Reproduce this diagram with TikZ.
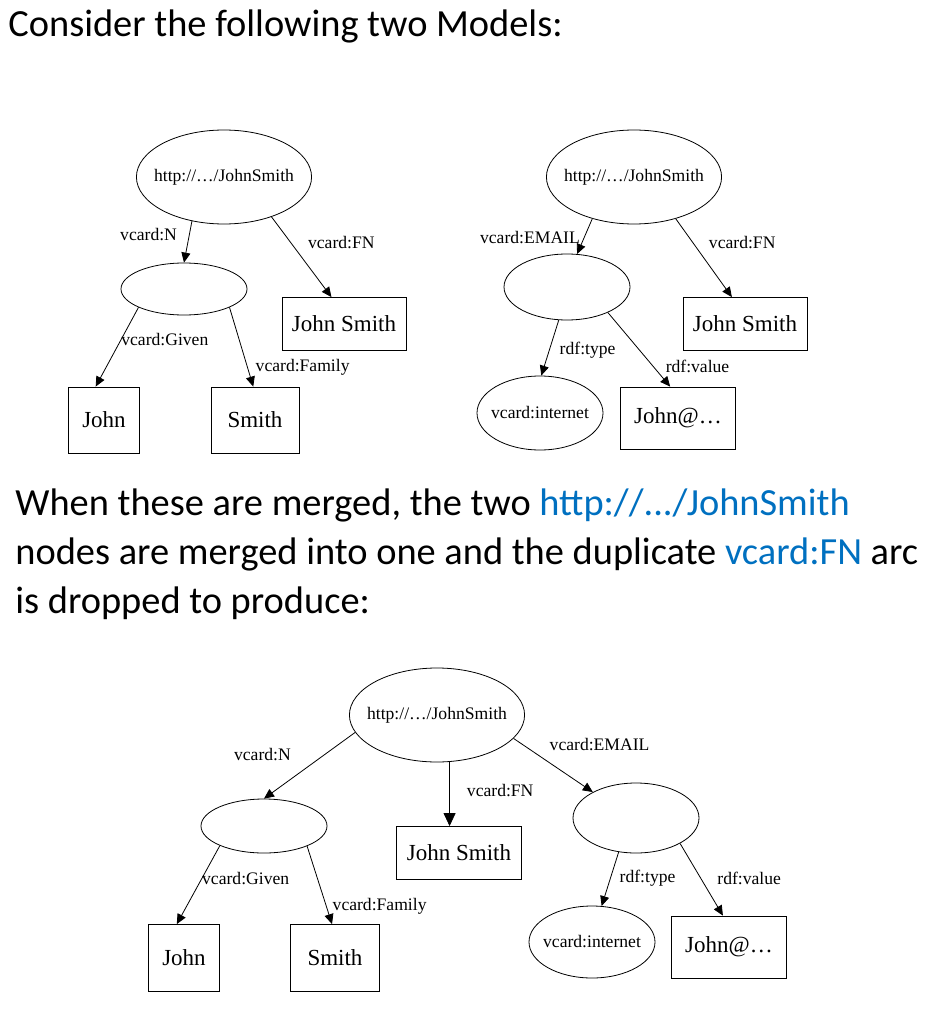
\documentclass[tikz,border=0pt]{standalone}
\usepackage{fontspec}
\setmainfont{Liberation Serif}
\newfontfamily\calibri{Carlito}
\usetikzlibrary{arrows.meta,positioning,shapes.geometric}
\definecolor{linkblue}{HTML}{0070C0}

\begin{document}
\begin{tikzpicture}[
            x=1pt, y=-1pt,
            line width=0.8pt,
            res/.style={ellipse, draw, inner xsep=-8pt, inner ysep=0pt,
                                    minimum width=170pt, minimum height=94pt,
                                    font=\fontsize{17.6}{19}\selectfont},
            blank/.style={ellipse, draw, inner sep=0pt, minimum width=126pt},
            lit/.style={rectangle, draw, inner sep=0pt, minimum height=53pt,
                                    font=\fontsize{23}{25}\selectfont},
            arc/.style={-{Triangle[length=10pt,width=9pt]}},
            lbl/.style={inner sep=0pt, font=\fontsize{17.6}{19}\selectfont},
            para/.style={anchor=base west, inner sep=0pt,
                                    font=\calibri\fontsize{38.4}{46}\selectfont}
        ]
        \useasboundingbox (0,0) rectangle (933,1032);

        % Text
        \node[para] (title) at (8,37) {Consider the following two Models:};
        \node[para] (p1) at (15,515) {When these are merged, the two \textcolor{linkblue}{http://.../JohnSmith}};
        \node[para] (p2) at (15,564) {nodes are merged into one and the duplicate \textcolor{linkblue}{vcard:FN} arc};
        \node[para] (p3) at (15,613) {is dropped to produce:};

        % Model one
        \node[res] (r1) at (224,177) {http://…/JohnSmith};
        \node[blank, minimum height=52pt] (m1) at (184,289) {};
        \node[lit, minimum width=124pt] (js1) at (344,324) {John Smith};
        \node[lit, minimum width=71pt, minimum height=66pt] (j1) at (104,420) {John};
        \node[lit, minimum width=88pt, minimum height=66pt] (s1) at (255,420) {Smith};

        % Model two
        \node[res] (r2) at (634,177) {http://…/JohnSmith};
        \node[blank, minimum height=66pt] (m2) at (567,287) {};
        \node[lit, minimum width=124pt] (js2) at (745,324) {John Smith};
        \node[res, minimum width=126pt, minimum height=74pt] (vi2) at (540,413) {vcard:internet};
        \node[lit, minimum width=115pt, minimum height=62pt] (e2) at (678,418) {John@…};

        % Merged model
        \node[res] (r3) at (437,715) {http://…/JohnSmith};
        \node[blank, minimum height=54pt] (m3) at (264,826) {};
        \node[lit, minimum width=125pt] (js3) at (459,853) {John Smith};
        \node[lit, minimum width=71pt, minimum height=67pt] (j3) at (184,958) {John};
        \node[lit, minimum width=89pt, minimum height=67pt] (s3) at (335,958) {Smith};
        \node[blank, minimum height=70pt] (m4) at (636,818) {};
        \node[res, minimum width=126pt, minimum height=72pt] (vi3) at (592,942) {vcard:internet};
        \node[lit, minimum width=115pt, minimum height=62pt] (e3) at (729,947) {John@…};

        % Arcs, model one
        \draw[arc] (r1.234) -- node[lbl, pos=.33, left=12pt] (n1) {vcard:N} (m1.north);
        \draw[arc] (r1.320) -- node[lbl, pos=.32, right=17pt] (fn1) {vcard:FN} (js1.115);
        \draw[arc] (m1.202) -- node[lbl, pos=.41, right=0pt] (g1) {vcard:Given} (j1.104);
        \draw[arc] (m1.338) -- node[lbl, pos=.75, right=8pt] (f1) {vcard:Family} (s1.93);

        % Arcs, model two
        \draw[arc] (r2.225) -- node[lbl, pos=.53, left=4pt] (em2) {vcard:EMAIL} (m2.73);
        \draw[arc] (r2.315) -- node[lbl, pos=.3, right=16pt] (fn2) {vcard:FN} (js2.116);
        \draw[arc] (m2.256) -- node[lbl, pos=.54, right=10pt] (t2) {rdf:type} (vi2.88);
        \draw[arc] (m2.328) -- node[lbl, pos=.73, right=12pt] (v2) {rdf:value} (e2.104);

        % Arcs, merged model
        \draw[arc] (r3.192) -- node[lbl, pos=.34, left=33pt] (n3) {vcard:N} (m3.north);
        \draw[arc, -{Triangle[length=13pt,width=12pt]}] (r3.285) -- node[lbl, pos=.44, right=17pt] (fn3) {vcard:FN} (r3.285 |- js3.north);
        \draw[arc] (r3.343) -- node[lbl, pos=.3, above right=3pt and 12pt] (em3) {vcard:EMAIL} (m4.149);
        \draw[arc] (m3.204) -- node[lbl, pos=.42, right=0pt] (g3) {vcard:Given} (j3.102);
        \draw[arc] (m3.335) -- node[lbl, pos=.77, right=6pt] (f3) {vcard:Family} (s3.95);
        \draw[arc] (m4.243) -- node[lbl, pos=.49, right=9pt] (t3) {rdf:type} (vi3.75);
        \draw[arc] (m4.330) -- node[lbl, pos=.49, right=16pt] (v3) {rdf:value} (e3.101);

        \end{tikzpicture}
\end{document}
